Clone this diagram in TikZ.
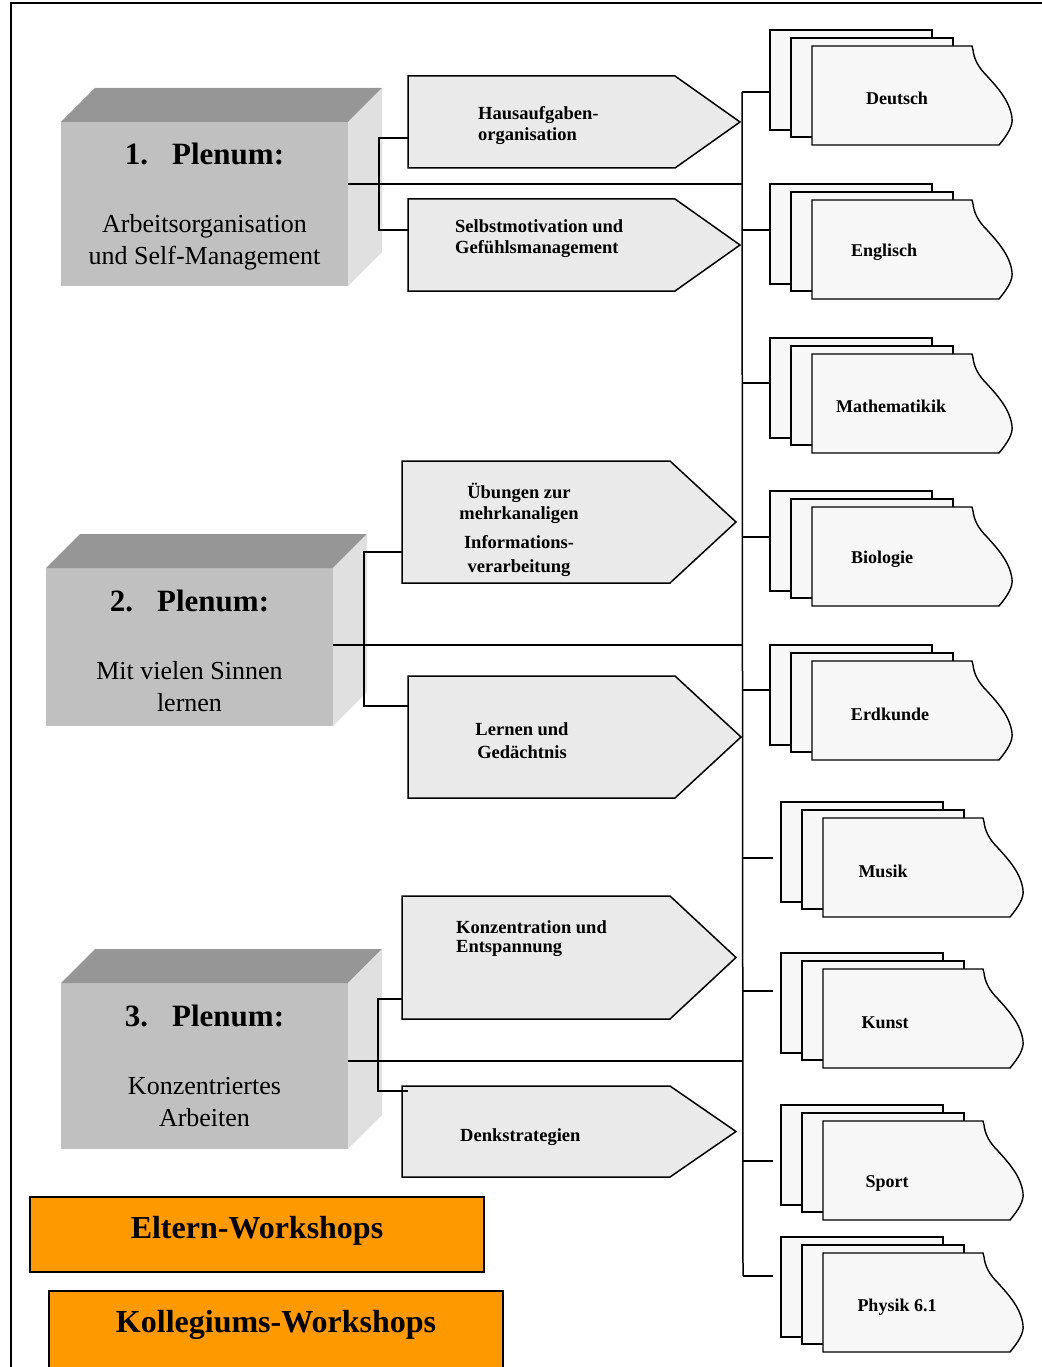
\documentclass[tikz,border=0pt]{standalone}
\usepackage{fontspec}
\setmainfont{Liberation Serif}
\definecolor{cubefront}{RGB}{192,192,192}
\definecolor{cubetopc}{RGB}{150,150,150}
\definecolor{cubesidec}{RGB}{224,224,224}
\definecolor{pentfill}{RGB}{234,234,234}
\definecolor{stackfill}{RGB}{247,247,247}
\definecolor{wsorange}{RGB}{255,153,0}
\newcommand\plenumcube[4]{%
  \node[cubefrontst, minimum height=#4] (#1) at (#2,#3) {};
  \fill[cubetopc] (#1.north west) -- ++(34,-34) -- ++(287,0) -- (#1.north east) -- cycle;
  \fill[cubesidec] (#1.north east) -- ++(34,-34) -- ++(0,#4) -- (#1.south east) -- cycle;
}
\newcommand\pentshape[6]{%
  \draw[pentbox] (#2,#3) -- (#4,#3) -- (#6,{(#3+#5)/2}) -- (#4,#5) -- (#2,#5) -- cycle;
  \coordinate (#1-tip) at (#6,{(#3+#5)/2});
}
\newcommand\subjstack[3]{%
  \begin{scope}[shift={(#2,#3)}]
    \node[stackbox, anchor=north west, minimum width=162, minimum height=100] (#1) at (0,0) {};
    \draw[stackbox] (21,8) rectangle (183,107);
    \draw[stackbox] (42,16) -- (202,16) -- (203,20) .. controls (204,28) and (207,36) .. (217,46)
      .. controls (227,57) and (240,71) .. (242,88) .. controls (243,96) and (238,104) .. (229,115)
      -- (42,115) -- cycle;
  \end{scope}
}
\begin{document}
\begin{tikzpicture}[x=1pt,y=-1pt,
  conn/.style={line width=1.5pt},
  frameline/.style={line width=2pt},
  pentbox/.style={draw, fill=pentfill, line width=1.5pt, line join=miter},
  stackbox/.style={draw, fill=stackfill, line width=1.4pt, inner sep=0pt, outer sep=0pt},
  cubefrontst/.style={fill=cubefront, inner sep=0pt, outer sep=0pt, anchor=north west, minimum width=287},
  plenumtitle/.style={font=\fontsize{31}{36}\selectfont\bfseries, inner sep=0pt},
  plenumsub/.style={font=\fontsize{26}{32}\selectfont, align=center, inner sep=0pt},
  penttext/.style={font=\fontsize{18.5}{21}\selectfont\bfseries, inner sep=0pt},
  subjlabel/.style={font=\fontsize{18}{20}\selectfont\bfseries, inner sep=0pt},
  orangebox/.style={draw, fill=wsorange, line width=1.4pt, anchor=north west, inner sep=0pt, outer sep=0pt, minimum width=454},
  orangetext/.style={font=\fontsize{32}{36}\selectfont\bfseries, inner sep=0pt}
]
\useasboundingbox (0,0) rectangle (1041,1367);
% frame
\draw[frameline] (11,1372) -- (11,3) -- (1046,3);

% cubes
\plenumcube{c1}{61}{122}{164}
\plenumcube{c2}{46}{568}{158}
\plenumcube{c3}{61}{983}{166}
\node[plenumtitle] (c1-t) at (204.5,153.5) {1.\hspace{24pt}Plenum:};
\node[plenumsub] (c1-s) at (204.5,242.5) {Arbeitsorganisation\\und Self-Management};
\node[plenumtitle] (c2-t) at (189.5,600.5) {2.\hspace{24pt}Plenum:};
\node[plenumsub] (c2-s) at (189.5,687) {Mit vielen Sinnen\\lernen};
\node[plenumtitle] (c3-t) at (204.5,1015.5) {3.\hspace{24pt}Plenum:};
\node[plenumsub] (c3-s) at (204.5,1102.5) {Konzentriertes\\Arbeiten};

% pentagons
\pentshape{p1}{408}{76}{675}{168}{740}
\pentshape{p2}{408}{199}{675}{291}{740}
\pentshape{p3}{402}{461}{670}{583}{736}
\pentshape{p4}{408}{676}{675}{798}{741}
\pentshape{p5}{402}{896}{670}{1019}{736}
\pentshape{p6}{402}{1086}{670}{1177}{736}
\node[penttext, align=left, anchor=west] (p1-t) at (478,125.5) {Hausaufgaben-\\organisation};
\node[penttext, align=left, anchor=west] (p2-t) at (455,239) {Selbstmotivation und\\Gefühlsmanagement};
\node[penttext, align=center] (p3-ta) at (519,503.5) {Übungen zur\\mehrkanaligen};
\node[penttext, align=center, font=\fontsize{18.5}{24}\selectfont\bfseries] (p3-tb) at (519,556) {Informations-\\verarbeitung};
\node[penttext, align=center, font=\fontsize{18.5}{23}\selectfont\bfseries] (p4-t) at (522,741) {Lernen und\\Gedächtnis};
\node[penttext, align=left, anchor=west, font=\fontsize{18.5}{19}\selectfont\bfseries] (p5-t) at (456,938.5) {Konzentration und\\Entspannung};
\node[penttext, anchor=west] (p6-t) at (460,1137.5) {Denkstrategien};

% subject stacks
\subjstack{deutsch}{770}{30}
\subjstack{englisch}{770}{184}
\subjstack{mathe}{770}{338}
\subjstack{bio}{770}{491}
\subjstack{erd}{770}{645}
\subjstack{musik}{781}{802}
\subjstack{kunst}{781}{953}
\subjstack{sport}{781}{1105}
\subjstack{physik}{781}{1237}
\node[subjlabel] (deutsch-l) at (897,98) {Deutsch};
\node[subjlabel] (englisch-l) at (884,252) {Englisch};
\node[subjlabel] (mathe-l) at (891,406) {Mathematikik};
\node[subjlabel] (bio-l) at (882,559) {Biologie};
\node[subjlabel] (erd-l) at (890,714) {Erdkunde};
\node[subjlabel] (musik-l) at (883,871) {Musik};
\node[subjlabel] (kunst-l) at (885,1023) {Kunst};
\node[subjlabel] (sport-l) at (887,1183) {Sport};
\node[subjlabel] (physik-l) at (897,1307) {Physik 6.1};

% bus and branches
\coordinate (bD) at (742,92);
\coordinate (bE) at (742,230);
\coordinate (bM) at (742,383);
\coordinate (bB) at (742,537);
\coordinate (bR) at (742,690);
\coordinate (bU) at (743,858);
\coordinate (bK) at (743,991);
\coordinate (bS) at (743,1161);
\coordinate (bP) at (743,1276);
\draw[conn] (bD) -- (bP);
\draw[conn] (bD) -- (bD -| deutsch.west);
\draw[conn] (bE) -- (bE -| englisch.west);
\draw[conn] (bM) -- (bM -| mathe.west);
\draw[conn] (bB) -- (bB -| bio.west);
\draw[conn] (bR) -- (bR -| erd.west);
\coordinate (eU) at (773,858);
\coordinate (eK) at (773,991);
\coordinate (eS) at (773,1161);
\coordinate (eP) at (773,1276);
\draw[conn] (bU) -- (eU);
\draw[conn] (bK) -- (eK);
\draw[conn] (bS) -- (eS);
\draw[conn] (bP) -- (eP);

% cube to bus
\coordinate (c1o) at (348,184);
\coordinate (c2o) at (333,645);
\coordinate (c3o) at (348,1061);
\draw[conn] (c1o) -- (c1o -| bD);
\draw[conn] (c2o) -- (c2o -| bD);
\draw[conn] (c3o) -- (c3o -| bP);

% brackets
\coordinate (p1in) at (408,138);
\coordinate (p2in) at (408,230);
\coordinate (p3in) at (402,552);
\coordinate (p4in) at (408,706);
\coordinate (p5in) at (402,999);
\coordinate (p6in) at (408,1091);
\draw[conn] (p1in) -- (379,138) |- (p2in);
\draw[conn] (p3in) -- (364,552) |- (p4in);
\draw[conn] (p5in) -- (378,999) |- (p6in);

% workshops
\node[orangebox, minimum height=75] (eltern) at (30,1197) {};
\node[orangetext] (eltern-t) at (257,1231) {Eltern-Workshops};
\node[orangebox, minimum height=82] (kolleg) at (49,1291) {};
\node[orangetext] (kolleg-t) at (276,1325) {Kollegiums-Workshops};
\end{tikzpicture}
\end{document}
